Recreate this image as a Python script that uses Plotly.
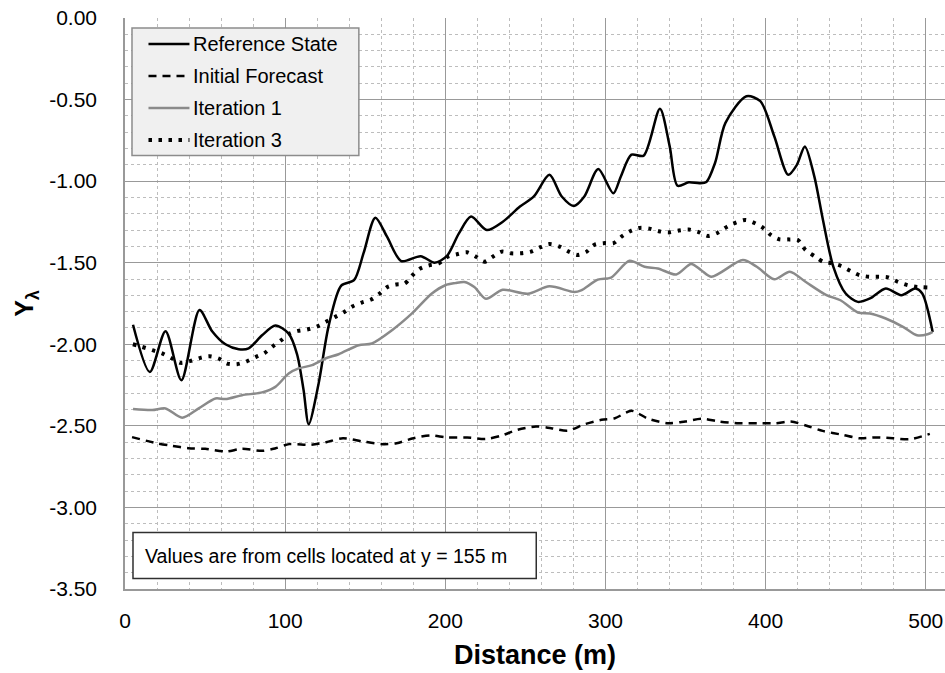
import plotly.graph_objects as go

# ---- data -------------------------------------------------------------
ref_x = [5, 15.5, 25.3, 35.2, 46.5, 54.4, 62.7, 71, 77.2, 85.6, 93.9, 102.2, 107.4, 111.5, 114.7, 120.9,
         127.1, 135, 143, 149, 156.3, 163.6, 172.5, 184.6, 193.3, 200.9, 208.5, 216.1, 225.9, 235.7,
         246.6, 255.3, 265.0, 272.7, 280.3, 286.8, 295.5, 304.9, 309.6, 316.2, 323.8, 334.0, 340.1,
         345.0, 352.0, 358.8, 363.0, 368.4, 374.9, 388.0, 396.7, 405.4, 414.1, 419.5, 424.5, 430.4,
         435.8, 442.3, 450.0, 457.6, 465.2, 475.0, 484.7, 493.5, 497.8, 504.3]
ref_y = [-1.88, -2.17, -1.92, -2.22, -1.79, -1.92, -2.00, -2.03, -2.025, -1.945, -1.885, -1.935, -2.06, -2.28, -2.49, -2.24,
         -1.89, -1.64, -1.607, -1.44, -1.224, -1.34, -1.49, -1.46, -1.50, -1.46, -1.32, -1.217, -1.30, -1.25,
         -1.156, -1.094, -0.961, -1.094, -1.152, -1.094, -0.926, -1.074, -0.971, -0.838, -0.844, -0.556, -0.787,
         -1.028, -1.007, -1.013, -1.005, -0.889, -0.643, -0.480, -0.510, -0.725, -0.961, -0.900, -0.787, -0.971,
         -1.238, -1.525, -1.689, -1.740, -1.719, -1.658, -1.699, -1.658, -1.689, -1.924]

init_x = [4.4, 19.7, 29.1, 39.6, 50.1, 62.7, 73.2, 85.7, 94.1, 102.5, 116.1, 125.6, 136.1, 148.6, 161.2,
          169.6, 180.1, 190.6, 201.0, 213.6, 225.2, 234.6, 245.1, 256.6, 266.1, 276.6, 287.0, 297.5, 305.9,
          316.3, 326.8, 339.3, 349.8, 360.3, 370.7, 383.3, 395.8, 406.3, 415.7, 425.1, 435.6, 448.1, 458.6,
          469.0, 479.5, 490.0, 502.5]
init_y = [-2.569, -2.606, -2.622, -2.637, -2.641, -2.657, -2.641, -2.653, -2.637, -2.612, -2.616, -2.600, -2.576,
          -2.596, -2.612, -2.606, -2.576, -2.559, -2.571, -2.571, -2.580, -2.561, -2.524, -2.504, -2.514, -2.529,
          -2.490, -2.463, -2.453, -2.408, -2.457, -2.484, -2.473, -2.457, -2.473, -2.484, -2.484, -2.484, -2.473,
          -2.498, -2.531, -2.555, -2.576, -2.571, -2.576, -2.582, -2.549]

it1_x = [5, 17, 25.3, 35.7, 46, 56.5, 62.7, 73.1, 85.6, 93.9, 102.2, 108.4, 116.8, 125.1, 133.4, 145.9, 154.2,
         166.7, 179.2, 191.6, 200, 206.2, 211.9, 218.1, 225.4, 235.8, 251.5, 265.0, 280.6, 284.8, 295.2, 303.5,
         315.0, 324.4, 332.7, 344.2, 353.5, 359.8, 366.2, 385.8, 394.5, 405.4, 415.1, 424.9, 438.0, 446.7,
         457.6, 465.2, 475.0, 485.8, 494.5, 501.1, 504.3]
it1_y = [-2.397, -2.403, -2.393, -2.45, -2.393, -2.332, -2.336, -2.312, -2.295, -2.261, -2.179, -2.148, -2.128,
         -2.087, -2.061, -2.006, -1.995, -1.914, -1.811, -1.689, -1.638, -1.625, -1.618, -1.649, -1.721, -1.666,
         -1.690, -1.645, -1.680, -1.670, -1.604, -1.591, -1.488, -1.525, -1.535, -1.572, -1.508, -1.546, -1.586,
         -1.484, -1.525, -1.602, -1.555, -1.617, -1.699, -1.730, -1.805, -1.811, -1.842, -1.893, -1.945, -1.939,
         -1.924]

it3_x = [4.9, 10.7, 17, 23.2, 29.4, 34.6, 40.9, 47.1, 52.7, 58.5, 63.7, 70, 76.2, 81.8, 87.2, 92.4, 97.6,
         102.8, 108, 114.3, 120.5, 126.1, 131.3, 136.9, 142.3, 147.9, 153.7, 159, 164, 169.2, 174.6, 179.5,
         184.3, 189.9, 195.8, 201.5, 207.3, 213.5, 219.2, 224.4, 229.6, 235.2, 241.0, 247.3, 253.5, 259.4,
         265.0, 271.3, 277.1, 282.7, 288.3, 293.1, 299.0, 305.0, 310.2, 315.4, 321.3, 327.5, 333.3, 339.6,
         345.8, 352.1, 358.1, 364.0, 370.1, 376.0, 381.4, 387.5, 393.4, 398.8, 403.2, 408.6, 414.5, 420.1,
         424.9, 430.4, 435.8, 441.7, 447.1, 452.8, 458.6, 464.5, 470.6, 476.5, 482.6, 488.5, 494.5, 501.1]
it3_y = [-2.0, -2.016, -2.036, -2.056, -2.087, -2.114, -2.102, -2.083, -2.073, -2.087, -2.118, -2.122, -2.104,
         -2.077, -2.053, -2.012, -1.975, -1.934, -1.918, -1.908, -1.889, -1.859, -1.832, -1.802, -1.767, -1.744,
         -1.726, -1.689, -1.648, -1.634, -1.628, -1.577, -1.536, -1.516, -1.505, -1.463, -1.448, -1.436, -1.463,
         -1.494, -1.463, -1.432, -1.442, -1.442, -1.432, -1.405, -1.386, -1.401, -1.432, -1.452, -1.432, -1.390,
         -1.380, -1.380, -1.339, -1.307, -1.287, -1.291, -1.307, -1.314, -1.303, -1.297, -1.312, -1.336, -1.316,
         -1.279, -1.254, -1.238, -1.258, -1.289, -1.330, -1.357, -1.357, -1.361, -1.422, -1.459, -1.494, -1.504,
         -1.520, -1.549, -1.576, -1.586, -1.586, -1.590, -1.617, -1.637, -1.648, -1.652]

x_ticks = [0, 100, 200, 300, 400, 500]
x_tick_labels = ["0", "100", "200", "300", "400", "500"]
y_ticks = [0, -0.5, -1.0, -1.5, -2.0, -2.5, -3.0, -3.5]
y_tick_labels = ["0.00", "-0.50", "-1.00", "-1.50", "-2.00", "-2.50", "-3.00", "-3.50"]

series_names = ["Reference State", "Initial Forecast", "Iteration 1", "Iteration 3"]
note_text = "Values are from cells located at y = 155 m"

# ---- styling ----------------------------------------------------------
W, H = 945, 673
M_L, M_R, M_T, M_B = 124.5, 0, 17.5, 84
FONT = "Liberation Sans, Arial, sans-serif"

styles = [
    dict(color="#000000", width=2.5, dash="solid"),
    dict(color="#000000", width=2.5, dash="8px,6px"),
    dict(color="#8a8a8a", width=2.5, dash="solid"),
    dict(color="#000000", width=4, dash="3.5px,6.5px"),
]

fig = go.Figure()
for name, xs, ys, st in zip(series_names,
                            [ref_x, init_x, it1_x, it3_x],
                            [ref_y, init_y, it1_y, it3_y],
                            styles):
    fig.add_trace(go.Scatter(x=xs, y=ys, mode="lines", name=name,
                             line=dict(shape="spline", smoothing=0.8, **st),
                             showlegend=False, hoverinfo="skip"))

# pixel -> paper helpers for the legend and the note box
PW = W - M_L - M_R
PH = H - M_T - M_B


def px(xp):
    return (xp - M_L) / PW


def py(yp):
    return (H - M_B - yp) / PH


shapes = []
annotations = []

# legend panel
shapes.append(dict(type="rect", xref="paper", yref="paper", layer="above",
                   x0=px(131.5), x1=px(358.5), y0=py(155), y1=py(27.5),
                   fillcolor="#f0f0f0", line=dict(color="#8c8c8c", width=1.5)))
row_y = [43.5, 75.5, 107.5, 139.5]
for name, st, ry in zip(series_names, styles, row_y):
    shapes.append(dict(type="line", xref="paper", yref="paper", layer="above",
                       x0=px(148), x1=px(189), y0=py(ry), y1=py(ry),
                       line=dict(color=st["color"], width=st["width"], dash=st["dash"])))
    annotations.append(dict(xref="paper", yref="paper", x=px(191), y=py(ry),
                            xanchor="left", yanchor="middle", showarrow=False,
                            text=name, font=dict(family=FONT, size=20, color="#000000")))

# note box
shapes.append(dict(type="rect", xref="paper", yref="paper", layer="above",
                   x0=px(132.5), x1=px(536), y0=py(578.5), y1=py(532.5),
                   fillcolor="#ffffff", line=dict(color="#303030", width=1.5)))
annotations.append(dict(xref="paper", yref="paper", x=px(143), y=py(556),
                        xanchor="left", yanchor="middle", showarrow=False,
                        text=note_text, font=dict(family=FONT, size=19.5, color="#000000")))

fig.update_layout(
    width=W, height=H,
    margin=dict(l=M_L, r=M_R, t=M_T, b=M_B, pad=0),
    paper_bgcolor="#ffffff", plot_bgcolor="#ffffff",
    shapes=shapes, annotations=annotations,
    showlegend=False,
)

fig.update_xaxes(
    range=[0, 512], tickvals=x_ticks, ticktext=x_tick_labels,
    showgrid=True, gridcolor="#999999", gridwidth=1,
    minor=dict(dtick=20, tick0=0, showgrid=True, gridcolor="#bdbdbd", griddash="dot", gridwidth=1),
    showline=True, linecolor="#999999", linewidth=1.5, zeroline=False,
    ticks="", ticklabelstandoff=12,
    tickfont=dict(family=FONT, size=21, color="#000000"),
    title=dict(text="<b>Distance (m)</b>", font=dict(family=FONT, size=27, color="#000000"), standoff=14),
)
fig.update_yaxes(
    range=[-3.5, 0], tickvals=y_ticks, ticktext=y_tick_labels,
    showgrid=True, gridcolor="#999999", gridwidth=1,
    minor=dict(dtick=0.1, tick0=0, showgrid=True, gridcolor="#bdbdbd", griddash="dot", gridwidth=1),
    showline=True, linecolor="#999999", linewidth=1.5, zeroline=False,
    ticks="", ticklabelstandoff=22,
    tickfont=dict(family=FONT, size=21, color="#000000"),
    title=dict(text="<b>Y<sub>λ</sub></b>", font=dict(family=FONT, size=25, color="#000000"), standoff=8),
)

fig.write_html("out.html")
